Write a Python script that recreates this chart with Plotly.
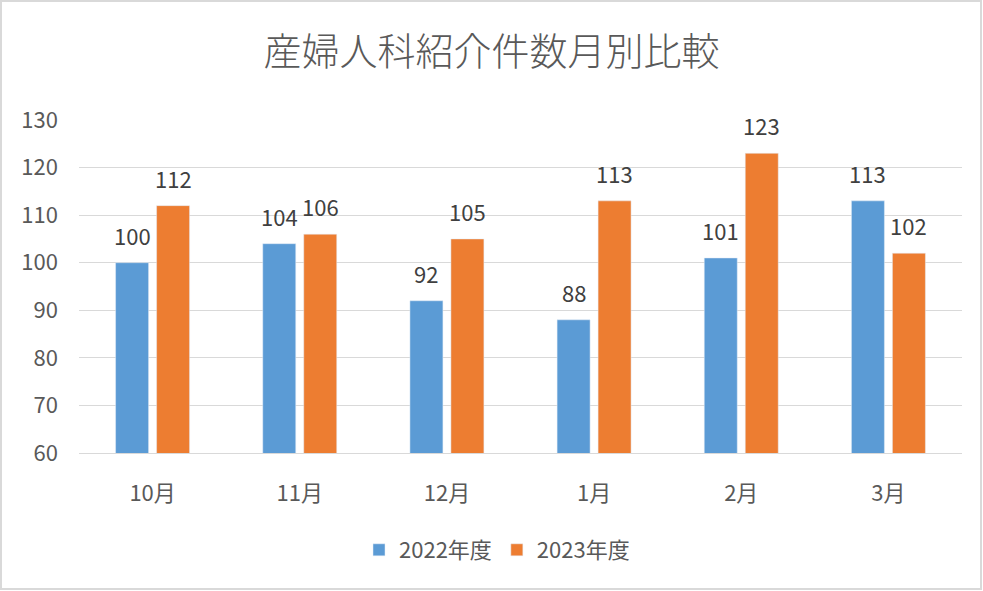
import plotly.graph_objects as go

categories = ["10月", "11月", "12月", "1月", "2月", "3月"]
series_2022 = [100, 104, 92, 88, 101, 113]
series_2023 = [112, 106, 105, 113, 123, 102]
series_names = ["2022年度", "2023年度"]
title_text = "産婦人科紹介件数月別比較"

W, H = 983, 591
L, R, T, B = 79, 21, 120, 138
pw, ph = W - L - R, H - T - B

FONT = "Noto Sans CJK JP"
TXT = "#595959"
BARGAP = 0.443
BARGROUPGAP = 0.195

fig = go.Figure()
series = [(series_names[0], series_2022, "#5B9BD5"),
          (series_names[1], series_2023, "#ED7D31")]
for name, vals, col in series:
    fig.add_trace(go.Bar(x=categories, y=vals, name=name, marker_color=col))

# data labels above each bar, positioned by the axis scale
slot = pw / len(categories) * (1 - BARGAP) / len(series)
annotations = []
for j, (name, vals, col) in enumerate(series):
    for cat, v in zip(categories, vals):
        annotations.append(dict(
            x=cat, y=v, xref="x", yref="y", text=str(v), showarrow=False,
            xshift=(j - (len(series) - 1) / 2) * slot, yshift=28, yanchor="middle",
            font=dict(family=FONT, size=22, color="#404040"),
        ))

fig.update_layout(
    width=W, height=H,
    margin=dict(l=L, r=R, t=T, b=B, autoexpand=False),
    paper_bgcolor="white", plot_bgcolor="white",
    title=dict(text=title_text, x=0.5, xanchor="center", y=1 - 52 / H, yanchor="middle",
               font=dict(family=FONT, size=38, color=TXT, weight=300)),
    barmode="group", bargap=BARGAP, bargroupgap=BARGROUPGAP,
    font=dict(family=FONT, color=TXT),
    xaxis=dict(showgrid=False, showline=True, linecolor="#D9D9D9", linewidth=1,
               ticks="", tickfont=dict(size=22, color=TXT), ticklabelstandoff=21),
    yaxis=dict(range=[60, 130], dtick=10, showgrid=True, gridcolor="#D9D9D9", gridwidth=1,
               zeroline=False, showline=False, ticks="",
               tickfont=dict(size=22, color=TXT), ticklabelstandoff=20),
    legend=dict(orientation="h", x=(497 - L) / pw, xanchor="center",
                y=-(550 - (T + ph)) / ph, yanchor="middle",
                font=dict(size=22, color=TXT), itemwidth=30, traceorder="normal"),
    showlegend=True,
    annotations=annotations,
    shapes=[dict(type="rect", xref="paper", yref="paper",
                 x0=(1 - L) / pw, x1=1 + (R - 2) / pw,
                 y0=-(B - 2) / ph, y1=1 + (T - 1) / ph,
                 line=dict(color="#D9D9D9", width=2), fillcolor="rgba(0,0,0,0)", layer="below")],
)

fig.write_html("out.html", config={"displayModeBar": False},
               post_script="document.body.style.margin='0';document.body.style.overflow='hidden';")
